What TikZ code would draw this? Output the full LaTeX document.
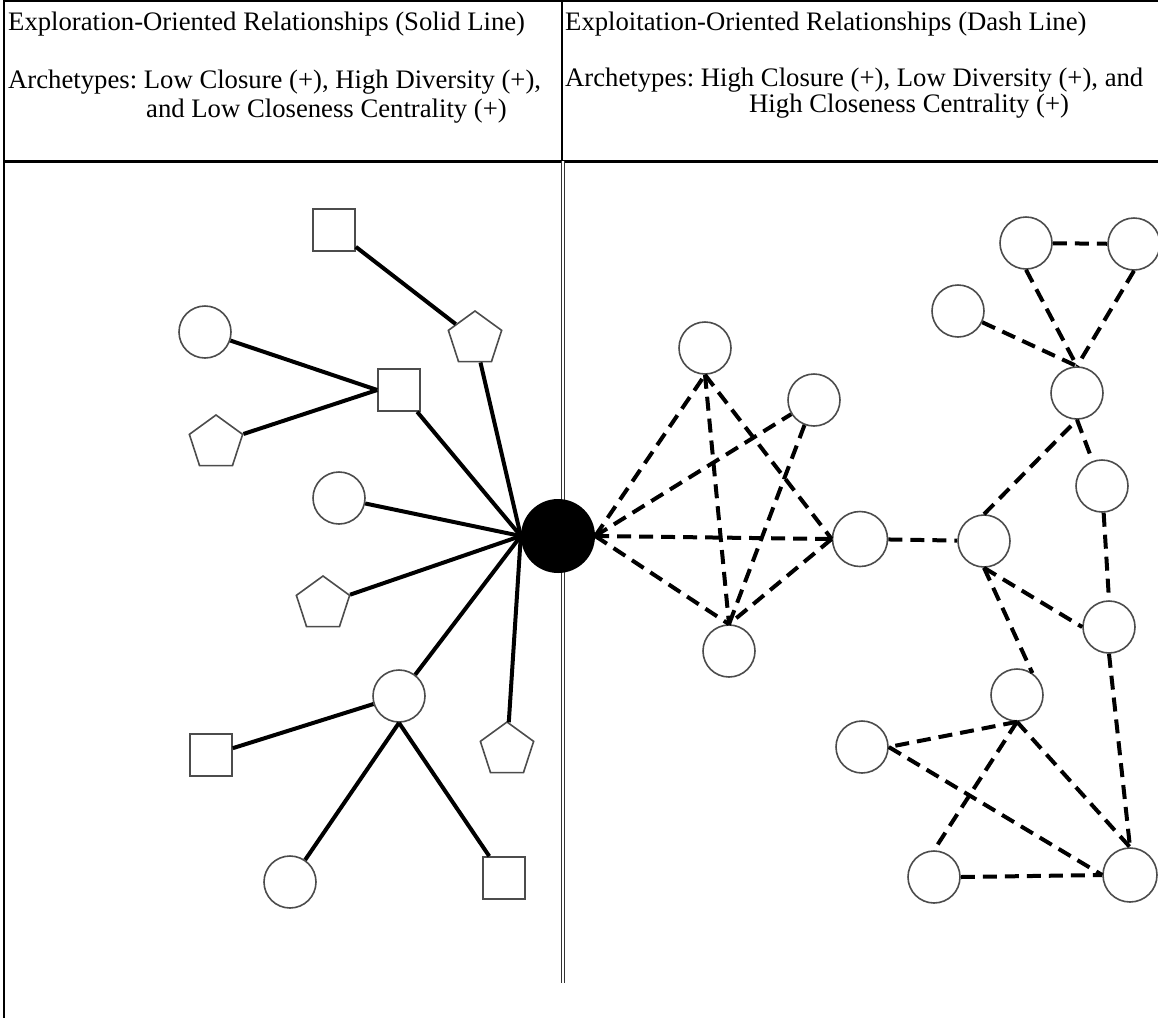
\documentclass[tikz,border=0pt]{standalone}
\usepackage{fontspec}
\setmainfont{Liberation Serif}
\usetikzlibrary{shapes.geometric}
\tikzset{
  alter/.style={circle,draw=black!70,line width=1.6pt,fill=white,minimum size=52pt,inner sep=0pt},
  sqalter/.style={rectangle,draw=black!70,line width=1.6pt,fill=white,minimum size=42pt,inner sep=0pt},
  ptalter/.style={regular polygon,regular polygon sides=5,draw=black!70,line width=1.6pt,fill=white,minimum size=56pt,inner sep=0pt},
  ego/.style={circle,fill=black,minimum size=74pt,inner sep=0pt},
  solidtie/.style={line width=4pt},
  dashtie/.style={line width=4pt,dash pattern=on 14pt off 8pt},
  headtext/.style={anchor=base west,inner sep=0pt,font=\fontsize{26.7}{30}\selectfont},
}
\frenchspacing

\begin{document}
\begin{tikzpicture}[x=1pt,y=-1pt]
  \useasboundingbox (0,0) rectangle (1158,1018);

  % table frame
  \draw[line width=2pt] (4,0) -- (4,1018);
  \draw[line width=2pt] (4,1) -- (1158,1);
  \draw[line width=1.5pt] (562,0) -- (562,161);
  \draw[line width=3pt] (4,161) -- (1158,161);
  \draw[double,double distance=2pt,line width=1.3pt,black!80] (563,161) -- (563,983);

  % header
  \node[headtext] (h_left1) at (8,30) {Exploration-Oriented Relationships (Solid Line)};
  \node[headtext] (h_left2) at (8,88) {Archetypes: Low Closure (+), High Diversity (+),};
  \node[headtext] (h_left3) at (146,117) {and Low Closeness Centrality (+)};
  \node[headtext] (h_right1) at (565,30) {Exploitation-Oriented Relationships (Dash Line)};
  \node[headtext] (h_right2) at (565,86) {Archetypes: High Closure (+), Low Diversity (+), and};
  \node[headtext] (h_right3) at (749,112) {High Closeness Centrality (+)};

  % focal actor
  \node[ego] (hub) at (558,536) {};

  % exploration side
  \node[sqalter] (ex_sq1) at (334,230) {};
  \node[ptalter] (ex_pt1) at (475,339) {};
  \node[alter] (ex_c1) at (205,332) {};
  \node[sqalter] (ex_sq2) at (399,390) {};
  \node[ptalter] (ex_pt2) at (216,443) {};
  \node[alter] (ex_c2) at (339,498) {};
  \node[ptalter] (ex_pt3) at (323,604) {};
  \node[alter] (ex_c3) at (399,696) {};
  \node[sqalter] (ex_sq3) at (211,755) {};
  \node[ptalter] (ex_pt4) at (507,750) {};
  \node[alter] (ex_c4) at (290,882) {};
  \node[sqalter] (ex_sq4) at (504,878) {};

  \draw[solidtie] (ex_sq1) -- (ex_pt1);
  \draw[solidtie] (ex_pt1) -- (hub.west);
  \draw[solidtie] (ex_c1) -- (ex_sq2.west);
  \draw[solidtie] (ex_pt2) -- (ex_sq2.west);
  \draw[solidtie] (ex_sq2) -- (hub.west);
  \draw[solidtie] (ex_c2) -- (hub.west);
  \draw[solidtie] (ex_pt3) -- (hub.west);
  \draw[solidtie] (ex_c3) -- (hub.west);
  \draw[solidtie] (ex_pt4) -- (hub.west);
  \draw[solidtie] (ex_c3) -- (ex_sq3);
  \draw[solidtie] (ex_c3.south) -- (ex_c4);
  \draw[solidtie] (ex_c3.south) -- (ex_sq4);

  % exploitation side
  \node[alter] (xp_a) at (705,348) {};
  \node[alter] (xp_b) at (814,400) {};
  \node[alter,minimum size=55pt] (xp_c) at (860,539) {};
  \node[alter] (xp_d) at (729,651) {};
  \node[alter] (xp_e) at (984,541) {};
  \node[alter] (xp_f) at (958,311) {};
  \node[alter] (xp_g) at (1026,243) {};
  \node[alter] (xp_h) at (1134,244) {};
  \node[alter] (xp_i) at (1077,393) {};
  \node[alter] (xp_j) at (1102,486) {};
  \node[alter] (xp_k) at (1109,627) {};
  \node[alter] (xp_l) at (1017,695) {};
  \node[alter] (xp_m) at (862,747) {};
  \node[alter] (xp_n) at (934,877) {};
  \node[alter,minimum size=54pt] (xp_o) at (1130,875) {};

  \draw[dashtie] (hub.east) -- (xp_a.south);
  \draw[dashtie] (hub.east) -- (xp_b);
  \draw[dashtie] (hub.east) -- (xp_c.west);
  \draw[dashtie] (hub.east) -- (xp_d.north);
  \draw[dashtie] (xp_a.south) -- (xp_d.north);
  \draw[dashtie] (xp_a.south) -- (xp_c.west);
  \draw[dashtie] (xp_b) -- (xp_d.north);
  \draw[dashtie] (xp_c.west) -- (xp_d.north);
  \draw[dashtie] (xp_c) -- (xp_e);
  \draw[dashtie] (xp_e.north) -- (xp_i.south);
  \draw[dashtie] (xp_f) -- (xp_i.north);
  \draw[dashtie] (xp_g.south) -- (xp_i.north);
  \draw[dashtie] (xp_h.south) -- (xp_i.north);
  \draw[dashtie] (xp_g) -- (xp_h);
  \draw[dashtie] (xp_i.south) -- (xp_j);
  \draw[dashtie] (xp_j) -- (xp_k.north);
  \draw[dashtie] (xp_e.south) -- (xp_k.west);
  \draw[dashtie] (xp_e.south) -- (xp_l.55);
  \draw[dashtie] (xp_k.south) -- (xp_o.north);
  \draw[dashtie] (xp_l.south) -- (xp_m.east);
  \draw[dashtie] (xp_l.south) -- (xp_n.north);
  \draw[dashtie] (xp_l.south) -- (xp_o.north);
  \draw[dashtie] (xp_m.east) -- (xp_o.west);
  \draw[dashtie] (xp_n.east) -- (xp_o.west);
\end{tikzpicture}
\end{document}
